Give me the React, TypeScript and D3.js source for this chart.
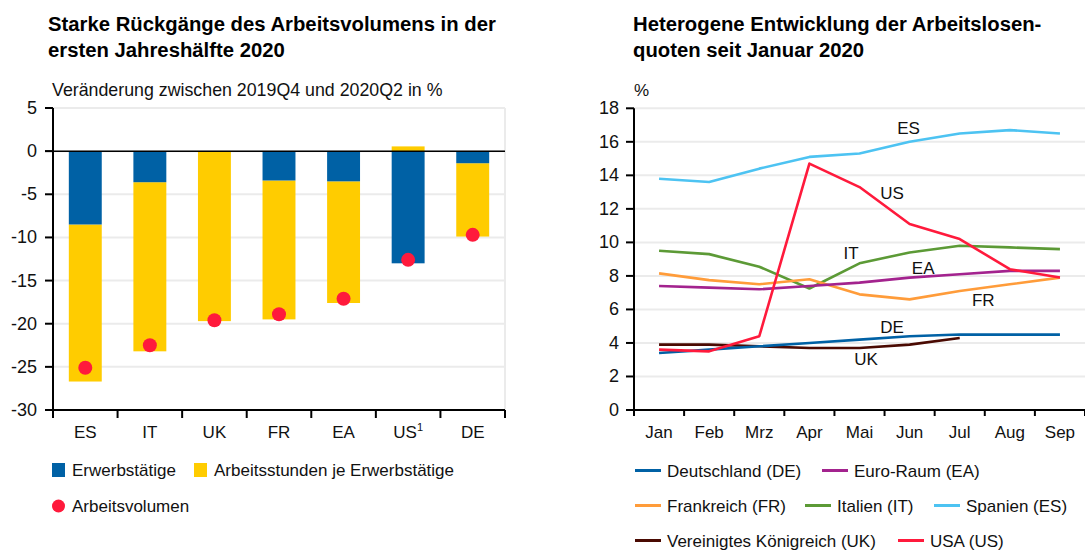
import React from "react";
import * as d3 from "d3";

// ---------- Left chart data ----------
const barCategories = ["ES", "IT", "UK", "FR", "EA", "US", "DE"];
const erwerbstaetige = [-8.5, -3.6, 0, -3.4, -3.5, -13.0, -1.4];
const arbeitsstunden = [-18.2, -19.6, -19.7, -16.1, -14.1, 0.55, -8.5];
const arbeitsvolumen = [-25.1, -22.5, -19.6, -18.9, -17.1, -12.6, -9.7];
const leftTicks = [5, 0, -5, -10, -15, -20, -25, -30];

// ---------- Right chart data ----------
const months = ["Jan", "Feb", "Mrz", "Apr", "Mai", "Jun", "Jul", "Aug", "Sep"];
const rightTicks = [0, 2, 4, 6, 8, 10, 12, 14, 16, 18];
const esValues = [13.8, 13.6, 14.4, 15.1, 15.3, 16.0, 16.5, 16.7, 16.5];
const itValues = [9.5, 9.3, 8.55, 7.25, 8.75, 9.4, 9.8, 9.7, 9.6];
const frValues = [8.15, 7.75, 7.5, 7.8, 6.9, 6.6, 7.1, 7.5, 7.9];
const eaValues = [7.4, 7.3, 7.2, 7.4, 7.6, 7.9, 8.1, 8.3, 8.3];
const ukValues = [3.9, 3.9, 3.8, 3.7, 3.7, 3.9, 4.3];
const deValues = [3.4, 3.6, 3.8, 4.0, 4.2, 4.4, 4.5, 4.5, 4.5];
const usValues = [3.6, 3.5, 4.4, 14.7, 13.3, 11.1, 10.2, 8.4, 7.9];

const C_BLUE = "#0061a5";
const C_YELLOW = "#ffcc00";
const C_RED = "#ff1a3c";

const series = [
  { key: "ES", name: "Spanien (ES)", values: esValues, color: "#4dc3f2", lx: 4.98, ly: 16.8 },
  { key: "IT", name: "Italien (IT)", values: itValues, color: "#5c9a36", lx: 3.83, ly: 9.37 },
  { key: "FR", name: "Frankreich (FR)", values: frValues, color: "#ff9c3a", lx: 6.47, ly: 6.56 },
  { key: "EA", name: "Euro-Raum (EA)", values: eaValues, color: "#a3238e", lx: 5.27, ly: 8.47 },
  { key: "UK", name: "Vereinigtes Königreich (UK)", values: ukValues, color: "#4a0a02", lx: 4.13, ly: 3.04 },
  { key: "DE", name: "Deutschland (DE)", values: deValues, color: "#0061a5", lx: 4.65, ly: 4.95 },
  { key: "US", name: "USA (US)", values: usValues, color: "#ff1a3c", lx: 4.65, ly: 12.95 },
];

const FONT = "'Liberation Sans', Arial, sans-serif";
const GRID = "#ebebeb";

function LeftChart() {
  const x = d3.scaleBand<string>().domain(barCategories).range([53, 505]).padding(0);
  const y = d3.scaleLinear().domain([-30, 5]).range([410, 108]);
  const bw = x.bandwidth() * 0.51;
  const bounds = barCategories.map((c) => x(c) as number).concat([505]);
  return (
    <g fontFamily={FONT}>
      <text x={48} y={31} fontSize={20.3} fontWeight="bold" fill="#000">
        Starke Rückgänge des Arbeitsvolumens in der
      </text>
      <text x={48} y={57} fontSize={20.3} fontWeight="bold" fill="#000">
        ersten Jahreshälfte 2020
      </text>
      <text x={52} y={96} fontSize={17.8} fill="#111">
        Veränderung zwischen 2019Q4 und 2020Q2 in %
      </text>
      {/* grid */}
      {leftTicks.map((t) => (
        <line key={t} x1={53} x2={505} y1={y(t)} y2={y(t)} stroke={GRID} strokeWidth={2} />
      ))}
      <line x1={505} x2={505} y1={y(5)} y2={410} stroke={GRID} strokeWidth={2} />
      {/* bars */}
      {barCategories.map((c, i) => {
        const cx = (x(c) as number) + x.bandwidth() / 2;
        const e = erwerbstaetige[i];
        const h = arbeitsstunden[i];
        const blueTop = Math.min(0, e);
        const blueBottom = Math.max(0, e);
        let yellow0: number, yellow1: number;
        if (h >= 0) {
          yellow0 = 0;
          yellow1 = h;
        } else {
          yellow0 = Math.min(0, e);
          yellow1 = yellow0 + h;
        }
        return (
          <g key={c}>
            <rect
              x={cx - bw / 2}
              width={bw}
              y={y(Math.max(yellow0, yellow1))}
              height={Math.abs(y(yellow0) - y(yellow1))}
              fill={C_YELLOW}
            />
            {e !== 0 ? (
              <rect
                x={cx - bw / 2}
                width={bw}
                y={y(blueBottom)}
                height={Math.abs(y(blueTop) - y(blueBottom))}
                fill={C_BLUE}
              />
            ) : null}
          </g>
        );
      })}
      {/* zero line */}
      <line x1={45} x2={505} y1={y(0)} y2={y(0)} stroke="#000" strokeWidth={1.5} />
      {/* dots */}
      {barCategories.map((c, i) => (
        <circle
          key={c}
          cx={(x(c) as number) + x.bandwidth() / 2}
          cy={y(arbeitsvolumen[i])}
          r={7}
          fill={C_RED}
        />
      ))}
      {/* y axis */}
      <line x1={53} x2={53} y1={y(5)} y2={418} stroke="#000" strokeWidth={2} />
      {leftTicks.map((t) => (
        <g key={t}>
          <line x1={45} x2={53} y1={y(t)} y2={y(t)} stroke="#000" strokeWidth={2} />
          <text x={37} y={y(t) + 6} fontSize={18} textAnchor="end" fill="#111">
            {t}
          </text>
        </g>
      ))}
      {/* x axis */}
      <line x1={53} x2={505} y1={410} y2={410} stroke="#000" strokeWidth={2} />
      {bounds.map((b, i) => (
        <line key={i} x1={b} x2={b} y1={410} y2={418} stroke="#000" strokeWidth={2} />
      ))}
      {barCategories.map((c) => (
        <text
          key={c}
          x={(x(c) as number) + x.bandwidth() / 2}
          y={438}
          fontSize={17}
          textAnchor="middle"
          fill="#111"
        >
          {c}
          {c === "US" ? (
            <tspan fontSize={11} dy={-7}>
              1
            </tspan>
          ) : null}
        </text>
      ))}
      {/* legend */}
      <rect x={52} y={463} width={13} height={14} fill={C_BLUE} />
      <text x={72} y={476} fontSize={17} fill="#111">
        Erwerbstätige
      </text>
      <rect x={194} y={463} width={13} height={14} fill={C_YELLOW} />
      <text x={214} y={476} fontSize={17} fill="#111">
        Arbeitsstunden je Erwerbstätige
      </text>
      <circle cx={58.5} cy={506} r={6.5} fill={C_RED} />
      <text x={72} y={512} fontSize={17} fill="#111">
        Arbeitsvolumen
      </text>
    </g>
  );
}

function RightChart() {
  const x = d3.scaleBand<string>().domain(months).range([634, 1085]).padding(0);
  const y = d3.scaleLinear().domain([0, 18]).range([410, 108.3]);
  const cx = (i: number) => (x(months[0]) as number) + x.bandwidth() * (i + 0.5);
  const line = d3
    .line<number>()
    .x((_, i) => cx(i))
    .y((d) => y(d));
  const bounds = months.map((m) => x(m) as number).concat([1085]);

  const legendRows = [
    [
      { s: "DE", x: 635 },
      { s: "EA", x: 822 },
    ],
    [
      { s: "FR", x: 635 },
      { s: "IT", x: 805 },
      { s: "ES", x: 934 },
    ],
    [
      { s: "UK", x: 635 },
      { s: "US", x: 898 },
    ],
  ];
  const rowY = [470.5, 505.5, 540.5];

  return (
    <g fontFamily={FONT}>
      <text x={633} y={31} fontSize={20.3} fontWeight="bold" fill="#000">
        Heterogene Entwicklung der Arbeitslosen-
      </text>
      <text x={633} y={57} fontSize={20.3} fontWeight="bold" fill="#000">
        quoten seit Januar 2020
      </text>
      <text x={634} y={96} fontSize={17} fill="#111">
        %
      </text>
      {rightTicks.map((t) => (
        <line key={t} x1={634} x2={1085} y1={y(t)} y2={y(t)} stroke={GRID} strokeWidth={2} />
      ))}
      {series.map((s) => (
        <path
          key={s.key}
          d={line(s.values) || ""}
          fill="none"
          stroke={s.color}
          strokeWidth={2.6}
          strokeLinejoin="round"
        />
      ))}
      {series.map((s) => (
        <text
          key={s.key}
          x={cx(s.lx)}
          y={y(s.ly) + 6}
          fontSize={17}
          textAnchor="middle"
          fill="#111"
        >
          {s.key}
        </text>
      ))}
      {/* axes */}
      <line x1={634} x2={634} y1={y(18)} y2={416} stroke="#000" strokeWidth={2} />
      {rightTicks.map((t) => (
        <g key={t}>
          <line x1={626} x2={634} y1={y(t)} y2={y(t)} stroke="#000" strokeWidth={2} />
          <text x={619} y={y(t) + 6} fontSize={18} textAnchor="end" fill="#111">
            {t}
          </text>
        </g>
      ))}
      <line x1={626} x2={1085} y1={410} y2={410} stroke="#000" strokeWidth={2} />
      {bounds.map((b, i) => (
        <line key={i} x1={b} x2={b} y1={410} y2={416} stroke="#000" strokeWidth={2} />
      ))}
      {months.map((m, i) => (
        <text key={m} x={cx(i)} y={438} fontSize={17} textAnchor="middle" fill="#111">
          {m}
        </text>
      ))}
      {/* legend */}
      {legendRows.map((row, r) =>
        row.map((it) => {
          const s = series.find((q) => q.key === it.s)!;
          return (
            <g key={it.s}>
              <line
                x1={it.x}
                x2={it.x + 26}
                y1={rowY[r]}
                y2={rowY[r]}
                stroke={s.color}
                strokeWidth={3}
              />
              <text x={it.x + 32} y={rowY[r] + 6} fontSize={17} fill="#111">
                {s.name}
              </text>
            </g>
          );
        })
      )}
    </g>
  );
}

export default function App() {
  return (
    <svg
      width={1085}
      height={550}
      style={{ position: "absolute", left: 0, top: 0, background: "#fff" }}
    >
      <rect width={1085} height={550} fill="#fff" />
      <LeftChart />
      <RightChart />
    </svg>
  );
}
